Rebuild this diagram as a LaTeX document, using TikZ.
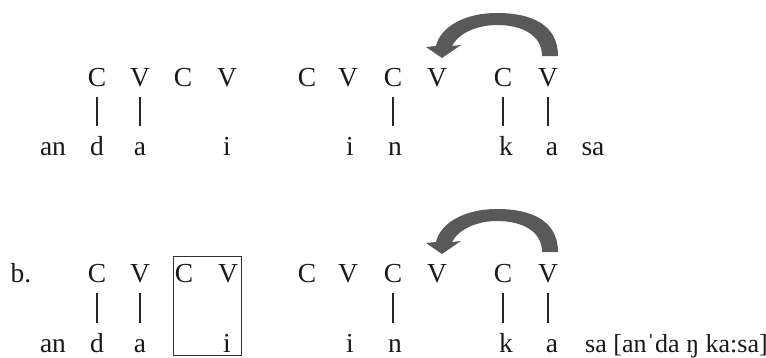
\documentclass[tikz,border=0pt]{standalone}
\usepackage{fontspec}
\setmainfont{Liberation Serif}
\usetikzlibrary{calc}
\begin{document}
\begin{tikzpicture}[x=1pt,y=-1pt,
  lt/.style={inner sep=0pt, anchor=base, text height=18pt, text depth=0pt,
             font=\fontsize{27.5}{31}\selectfont, text=black!90},
  bar/.style={line width=1.3pt, draw=black!85, shorten <=11pt, shorten >=11pt},
  curvarrow/.pic={
    \fill[black!65] (542,56) -- (558,56)
      .. controls (558,25) and (532,13) .. (497,13)
      .. controls (463,13) and (440,28) .. (436,46)
      -- (426,47) -- (442,58) -- (461,45) -- (452,46)
      .. controls (458,34) and (476,25) .. (497,25)
      .. controls (522,25) and (542,35) .. (542,56) -- cycle;
  }]
\useasboundingbox (0,0) rectangle (766,357);

% ---------- row a ----------
\node[lt] (aC1) at (97,86) {C};
\node[lt] (aV1) at (140,86) {V};
\node[lt] (aC2) at (183,86) {C};
\node[lt] (aV2) at (227,86) {V};
\node[lt] (aC3) at (307,86) {C};
\node[lt] (aV3) at (348,86) {V};
\node[lt] (aC4) at (393,86) {C};
\node[lt] (aV4) at (437,86) {V};
\node[lt] (aC5) at (503,86) {C};
\node[lt] (aV5) at (548,86) {V};

\node[lt] (aan) at (53,155) {an};
\node[lt] (ad) at (97,155) {d};
\node[lt] (aa) at (140,155) {a};
\node[lt] (ai1) at (227,155) {i};
\node[lt] (ai2) at (350,155) {i};
\node[lt] (an) at (395,155) {n};
\node[lt] (ak) at (506,155) {k};
\node[lt] (aa2) at (552,155) {a};
\node[lt] (asa) at (593,155) {sa};

\draw[bar] (aC1.south) -- (aC1.south |- ad.north);
\draw[bar] (aV1.south) -- (aV1.south |- aa.north);
\draw[bar] (aC4.south) -- (aC4.south |- an.north);
\draw[bar] (aC5.south) -- (aC5.south |- ak.north);
\draw[bar] (aV5.south) -- (aV5.south |- aa2.north);

\pic at (0,0) {curvarrow};

% ---------- row b ----------
\node[lt] (bb) at (21,282) {b.};
\node[lt] (bC1) at (97,282) {C};
\node[lt] (bV1) at (140,282) {V};
\node[lt] (bC2) at (184,282) {C};
\node[lt] (bV2) at (228,282) {V};
\node[lt] (bC3) at (307,282) {C};
\node[lt] (bV3) at (348,282) {V};
\node[lt] (bC4) at (393,282) {C};
\node[lt] (bV4) at (437,282) {V};
\node[lt] (bC5) at (503,282) {C};
\node[lt] (bV5) at (548,282) {V};

\node[lt] (ban) at (53,352) {an};
\node[lt] (bd) at (97,352) {d};
\node[lt] (ba) at (140,352) {a};
\node[lt] (bi1) at (227,352) {i};
\node[lt] (bi2) at (350,352) {i};
\node[lt] (bn) at (395,352) {n};
\node[lt] (bk) at (506,352) {k};
\node[lt] (ba2) at (552,352) {a};
\node[lt, anchor=base west, font=\fontsize{26}{30}\selectfont] (bsa) at (585,352) {sa [anˈda ŋ ka:sa]};

\draw[bar] (bC1.south) -- (bC1.south |- bd.north);
\draw[bar] (bV1.south) -- (bV1.south |- ba.north);
\draw[bar] (bC4.south) -- (bC4.south |- bn.north);
\draw[bar] (bC5.south) -- (bC5.south |- bk.north);
\draw[bar] (bV5.south) -- (bV5.south |- ba2.north);

\node[draw=black!80, line width=1pt, inner sep=0pt, minimum width=68pt,
      minimum height=99pt] (box) at (207,306) {};

\pic at (0,196) {curvarrow};
\end{tikzpicture}
\end{document}
